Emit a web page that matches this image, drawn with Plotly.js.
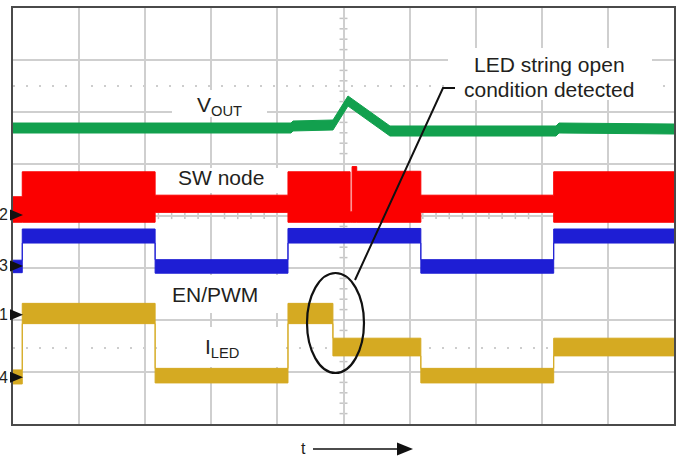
<!DOCTYPE html>
<html>
<head>
<meta charset="utf-8">
<script src="https://cdn.plot.ly/plotly-3.0.1.min.js"></script>
<style>html,body{margin:0;padding:0;background:#fff;}#chart{width:680px;height:458px;}</style>
</head>
<body>
<div id="chart"></div>
<script>
// ---- Data (time in divisions, amplitude in divisions) ----
// V_OUT (green) band
const voutT     = [0, 4.206, 4.236, 4.841, 5.068, 5.703, 8.215, 8.260, 10];
const voutUpper = [5.788, 5.788, 5.827, 5.846, 6.308, 5.731, 5.731, 5.788, 5.769];
const voutLower = [5.596, 5.596, 5.635, 5.654, 6.115, 5.538, 5.538, 5.596, 5.577];
// SW node (red) band, step-wise
const swT     = [0, 0.14, 2.15, 4.16, 5.10, 5.13, 5.20, 6.17, 8.18, 10];
const swUpper = [4.37, 4.85, 4.40, 4.85, 4.08, 4.95, 4.86, 4.40, 4.85, 4.85];
const swLower = [3.88, 3.88, 4.07, 3.88, 3.88, 3.88, 3.88, 4.07, 3.88, 3.88];
// EN/PWM (blue) band, step-wise
const enT     = [0, 0.14, 2.15, 4.16, 6.17, 8.18, 10];
const enUpper = [3.15, 3.75, 3.16, 3.76, 3.16, 3.75, 3.75];
const enLower = [2.91, 3.48, 2.90, 3.48, 2.90, 3.48, 3.48];
// I_LED (yellow) band, step-wise
const ledT     = [0, 0.14, 2.15, 4.16, 4.84, 6.17, 8.18, 10];
const ledUpper = [1.04, 2.32, 1.07, 2.32, 1.65, 1.07, 1.65, 1.65];
const ledLower = [0.77, 1.93, 0.79, 1.93, 1.31, 0.79, 1.31, 1.31];
// Channel reference markers
const chanLabels = ["2", "3", "1", "4"];
const chanLevels = [4.02, 3.04, 2.10, 0.90];
// Trace labels
const traceLabels = ["V<sub>OUT</sub>", "SW node", "EN/PWM", "I<sub>LED</sub>"];
const calloutLines = ["LED string open", "condition detected"];

const GREEN = "#12a04e", RED = "#fb0000", BLUE = "#1e1ed4", YELLOW = "#d5aa22";

function band(t, lo, hi, color, shape) {
  return [
    {x: t, y: lo, mode: "lines", line: {color: color, width: 1, shape: shape}, hoverinfo: "skip", showlegend: false},
    {x: t, y: hi, mode: "lines", line: {color: color, width: 1, shape: shape}, fill: "tonexty", fillcolor: color, hoverinfo: "skip", showlegend: false}
  ];
}

const traces = [].concat(
  band(voutT, voutLower, voutUpper, GREEN, "linear"),
  band(swT, swLower, swUpper, RED, "hv"),
  band(enT, enLower, enUpper, BLUE, "hv"),
  band(ledT, ledLower, ledUpper, YELLOW, "hv")
);

const PW = 661, PH = 416; // plot area px
const shapes = [];
// minor ticks on centre graticule lines
for (let i = 1; i < 40; i++) {
  if (i % 5 === 0) continue;
  shapes.push({type: "line", layer: "below", xref: "x", yref: "y", x0: 5 - 0.06, x1: 5 + 0.06, y0: i * 0.2, y1: i * 0.2, line: {color: "#c4c4c4", width: 1.5}});
}
for (let i = 1; i < 50; i++) {
  if (i % 5 === 0) continue;
  shapes.push({type: "line", layer: "below", xref: "x", yref: "y", x0: i * 0.2, x1: i * 0.2, y0: 4 - 0.06, y1: 4 + 0.06, line: {color: "#c4c4c4", width: 1.5}});
}
// dotted reference lines
[6.5, 1.46].forEach(v => shapes.push({type: "line", layer: "below", xref: "paper", yref: "y", x0: 0, x1: 1, y0: v, y1: v, line: {color: "#bdbdbd", width: 1.5, dash: "2px,11px"}}));
// white label backgrounds (between grid and traces)
[[2.405, 3.843, 5.904, 6.423], [2.330, 4.009, 4.442, 4.923], [2.178, 4.009, 2.135, 2.865], [2.178, 4.009, 1.096, 1.865], [6.581, 9.667, 6.231, 7.231]]
  .forEach(b => shapes.push({type: "rect", layer: "between", xref: "x", yref: "y", x0: b[0], x1: b[1], y0: b[2], y1: b[3], fillcolor: "#ffffff", line: {width: 0}}));
// ellipse + leader
shapes.push({type: "circle", xref: "x", yref: "y", x0: 4.448, x1: 5.310, y0: 0.981, y1: 2.904, line: {color: "#111", width: 2.2}});
shapes.push({type: "path", xref: "x", yref: "y", path: "M5.174,2.769 L6.505,6.462 L6.687,6.462", line: {color: "#111", width: 2}});
// channel marker triangles
const triW = 13 / PW, triH = 5.5 / 52, triX0 = (10 - 13) / PW;
chanLevels.forEach(v => shapes.push({type: "path", xref: "paper", yref: "y",
  path: `M${triX0},${v + triH} L${triX0 + triW},${v} L${triX0},${v - triH} Z`, fillcolor: "#111", line: {color: "#111", width: 0}}));
// time arrow
const ay = (424 - 449) / PH;
shapes.push({type: "line", xref: "paper", yref: "paper", x0: (313 - 13) / PW, x1: (400 - 13) / PW, y0: ay, y1: ay, line: {color: "#111", width: 1.4}});
shapes.push({type: "path", xref: "paper", yref: "paper",
  path: `M${(397 - 13) / PW},${ay + 6.5 / PH} L${(413 - 13) / PW},${ay} L${(397 - 13) / PW},${ay - 6.5 / PH} Z`, fillcolor: "#111", line: {width: 0}});

const FONT = "Liberation Sans, Arial, Helvetica, sans-serif";
const TXT = "#231f20";
const annotations = [];
const labelPos = [[3.13, 6.12], [3.154, 4.731], [3.056, 2.50], [3.16, 1.46]];
traceLabels.forEach((t, i) => annotations.push({xref: "x", yref: "y", x: labelPos[i][0], y: labelPos[i][1], text: t, showarrow: false, font: {family: FONT, size: 21, color: TXT}, xanchor: "center", yanchor: "middle"}));
annotations.push({xref: "x", yref: "y", x: 8.109, y: 6.904, text: calloutLines[0], showarrow: false, font: {family: FONT, size: 21, color: TXT}, yanchor: "middle"});
annotations.push({xref: "x", yref: "y", x: 8.109, y: 6.442, text: calloutLines[1], showarrow: false, font: {family: FONT, size: 21, color: TXT}, yanchor: "middle"});
chanLabels.forEach((c, i) => annotations.push({xref: "paper", yref: "y", x: (3.5 - 13) / PW, y: chanLevels[i], text: c, showarrow: false, font: {family: FONT, size: 16, color: TXT}, xanchor: "center", yanchor: "middle"}));
annotations.push({xref: "paper", yref: "paper", x: (303 - 13) / PW, y: ay, text: "t", showarrow: false, font: {family: FONT, size: 16, color: TXT}, xanchor: "center", yanchor: "middle"});

const axisCommon = {showgrid: true, gridcolor: "#cfcfcf", gridwidth: 2, zeroline: false, showticklabels: false, ticks: "",
  showline: true, linecolor: "#4a4a4a", linewidth: 2, mirror: true, fixedrange: true};

const layout = {
  width: 680, height: 458,
  margin: {l: 13, r: 6, t: 8, b: 34, pad: 0},
  paper_bgcolor: "#ffffff", plot_bgcolor: "#ffffff",
  xaxis: Object.assign({range: [0, 10], dtick: 1, tick0: 0}, axisCommon),
  yaxis: Object.assign({range: [0, 8], dtick: 1, tick0: 0}, axisCommon),
  shapes: shapes, annotations: annotations, showlegend: false
};

Plotly.newPlot("chart", traces, layout, {displayModeBar: false, staticPlot: true});
</script>
</body>
</html>
